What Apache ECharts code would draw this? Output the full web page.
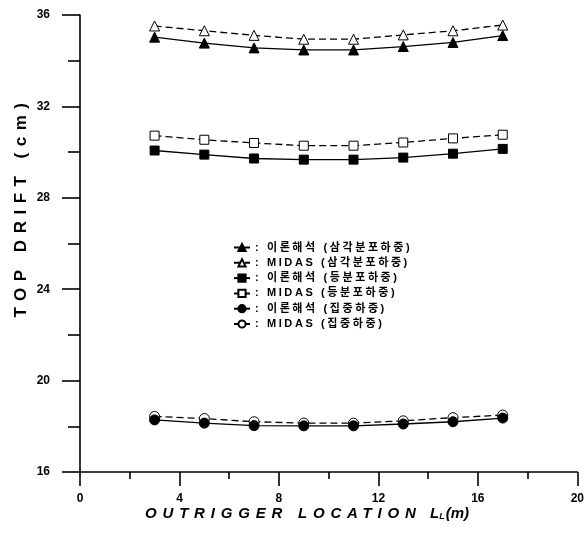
<!DOCTYPE html>
<html>
<head>
<meta charset="utf-8">
<script src="https://cdn.jsdelivr.net/npm/echarts@6/dist/echarts.min.js"></script>
<style>
html,body{margin:0;padding:0;background:#fff;}
#c{width:587px;height:533px;}
</style>
</head>
<body>
<div id="c"></div>
<script>
// ---- data ----
const xs = [3, 5, 7, 9, 11, 13, 15, 17];
const theoryTri = [35.03, 34.77, 34.56, 34.47, 34.47, 34.62, 34.80, 35.10];
const midasTri  = [35.52, 35.31, 35.11, 34.94, 34.94, 35.13, 35.31, 35.56];
const theorySq  = [30.07, 29.89, 29.72, 29.67, 29.67, 29.76, 29.93, 30.14];
const midasSq   = [30.72, 30.54, 30.40, 30.28, 30.28, 30.42, 30.60, 30.76];
const theoryCi  = [18.28, 18.14, 18.03, 18.02, 18.02, 18.10, 18.20, 18.36];
const midasCi   = [18.43, 18.34, 18.20, 18.14, 18.14, 18.24, 18.38, 18.49];
const seriesNames = [
  ': 이론해석 (삼각분포하중)',
  ': MIDAS (삼각분포하중)',
  ': 이론해석 (등분포하중)',
  ': MIDAS (등분포하중)',
  ': 이론해석 (집중하중)',
  ': MIDAS (집중하중)'
];
const yTitle = 'TOP DRIFT (cm)';
const xTitleMain = 'OUTRIGGER LOCATION';

// letter spacing for specific texts (canvas native letterSpacing)
const LS = {};
LS[yTitle] = '6.5px';
LS[xTitleMain] = '5.8px';
seriesNames.forEach(n => LS[n] = '2.6px');
(function(){
  const P = CanvasRenderingContext2D.prototype;
  if (!('letterSpacing' in P)) return;
  const ft = P.fillText, mt = P.measureText;
  function withLS(ctx, ls, fn) {
    const f = ctx.font;
    ctx.letterSpacing = ls;
    ctx.font = '10px serif'; ctx.font = f;
    const r = fn();
    ctx.letterSpacing = '0px';
    ctx.font = '10px serif'; ctx.font = f;
    return r;
  }
  P.fillText = function(t, ...a){
    const ls = Object.prototype.hasOwnProperty.call(LS, t) ? LS[t] : null;
    if (ls) return withLS(this, ls, () => ft.call(this, t, ...a));
    return ft.call(this, t, ...a);
  };
  P.measureText = function(t){
    const ls = Object.prototype.hasOwnProperty.call(LS, t) ? LS[t] : null;
    if (ls) return withLS(this, ls, () => mt.call(this, t));
    return mt.call(this, t);
  };
})();

const pairs = arr => xs.map((x, i) => [x, arr[i]]);
const FONT = '"Liberation Sans", Arial, Helvetica, sans-serif';
const KFONT = '"Liberation Sans", "Noto Sans CJK KR", sans-serif';

function mk(name, data, symbol, filled, dashed, size) {
  return {
    name: name, type: 'line', data: pairs(data),
    symbol: symbol, symbolSize: size,
    showSymbol: true,
    lineStyle: { color: '#000', width: 1.3, type: dashed ? [7, 4] : 'solid' },
    itemStyle: { color: filled ? '#000' : '#fff', borderColor: '#000', borderWidth: 1 },
    emphasis: { disabled: true },
    z: filled ? 3 : 2
  };
}

const chart = echarts.init(document.getElementById('c'), null, { renderer: 'canvas' });
chart.setOption({
  animation: false,
  backgroundColor: '#fff',
  grid: { left: 80, right: 9, top: 15, bottom: 61 },
  legend: {
    orient: 'vertical', left: 228, top: 236,
    itemWidth: 16, itemHeight: 9, itemGap: 2.3,
    textStyle: { fontFamily: KFONT, fontWeight: 'bold', fontSize: 11, color: '#000', lineHeight: 13 },
    data: seriesNames
  },
  xAxis: {
    type: 'value', min: 0, max: 20, interval: 4,
    axisLine: { show: true, lineStyle: { color: '#000', width: 1.6 } },
    axisTick: { show: true, length: 14, lineStyle: { color: '#000', width: 1.6 } },
    minorTick: { show: true, splitNumber: 2, length: 7, lineStyle: { color: '#000', width: 1.6 } },
    splitLine: { show: false },
    axisLabel: { margin: 21, color: '#000', fontFamily: FONT, fontWeight: 'bold', fontSize: 12 }
  },
  yAxis: {
    type: 'value', min: 16, max: 36, interval: 4,
    axisLine: { show: true, lineStyle: { color: '#000', width: 1.6 } },
    axisTick: { show: true, length: 18, lineStyle: { color: '#000', width: 1.6 } },
    minorTick: { show: true, splitNumber: 2, length: 12, lineStyle: { color: '#000', width: 1.6 } },
    splitLine: { show: false },
    axisLabel: { margin: 30, color: '#000', fontFamily: FONT, fontWeight: 'bold', fontSize: 12 }
  },
  graphic: [
    {
      type: 'text', x: 21, y: 207, rotation: Math.PI / 2,
      style: {
        text: yTitle, fill: '#000',
        font: 'bold 17px ' + FONT,
        align: 'center', verticalAlign: 'middle'
      }
    },
    {
      type: 'text', x: 307, y: 514,
      style: {
        text: '{a|' + xTitleMain + '}{g|  }{b|L}{s|L}{b|(m)}',
        align: 'center', verticalAlign: 'middle', fill: '#000',
        rich: {
          a: { fontFamily: FONT, fontWeight: 'bold', fontStyle: 'italic', fontSize: 15, fill: '#000' },
          g: { fontFamily: FONT, fontWeight: 'bold', fontSize: 15, fill: '#000' },
          b: { fontFamily: FONT, fontWeight: 'bold', fontStyle: 'italic', fontSize: 15, fill: '#000' },
          s: { fontFamily: FONT, fontWeight: 'bold', fontStyle: 'italic', fontSize: 9, fill: '#000', padding: [6, 1, 0, 0] }
        }
      }
    }
  ],
  series: [
    mk(seriesNames[0], theoryTri, 'triangle', true, false, 10),
    mk(seriesNames[1], midasTri, 'triangle', false, true, 10),
    mk(seriesNames[2], theorySq, 'rect', true, false, 9),
    mk(seriesNames[3], midasSq, 'rect', false, true, 9),
    mk(seriesNames[4], theoryCi, 'circle', true, false, 10),
    mk(seriesNames[5], midasCi, 'circle', false, true, 10)
  ]
});
</script>
</body>
</html>
